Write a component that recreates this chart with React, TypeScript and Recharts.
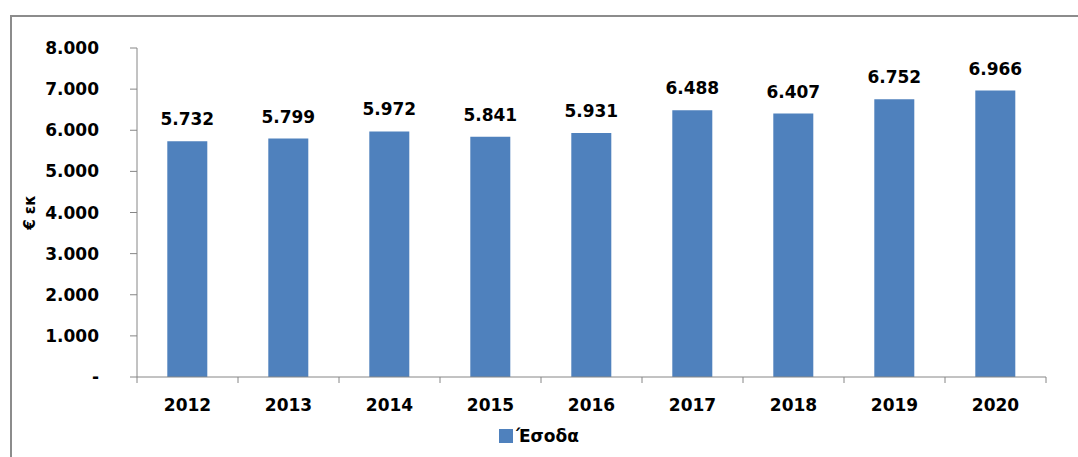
import React from "react";
import {
  BarChart,
  Bar,
  XAxis,
  YAxis,
  Legend,
  LabelList,
} from "recharts";

const years = ["2012", "2013", "2014", "2015", "2016", "2017", "2018", "2019", "2020"];
const revenue = [5732, 5799, 5972, 5841, 5931, 6488, 6407, 6752, 6966];
const yTicks = [0, 1000, 2000, 3000, 4000, 5000, 6000, 7000, 8000];

const data = years.map((y, i) => ({ year: y, value: revenue[i] }));

const FONT = "'DejaVu Sans', Verdana, sans-serif";
const AXIS = "#868686";

function fmt(v: number) {
  if (v === 0) return "-";
  const th = Math.floor(v / 1000);
  const rest = String(v % 1000).padStart(3, "0");
  return th > 0 ? `${th}.${rest}` : String(v);
}

function XTick(props: any) {
  const { x, y, payload, index, width } = props;
  const bw = width / years.length;
  const isLast = index === years.length - 1;
  return (
    <g>
      <line x1={x - bw / 2} y1={y} x2={x - bw / 2} y2={y + 6} stroke={AXIS} />
      {isLast && <line x1={x + bw / 2} y1={y} x2={x + bw / 2} y2={y + 6} stroke={AXIS} />}
      <text
        x={x}
        y={y + 34}
        textAnchor="middle"
        fontFamily={FONT}
        fontWeight="bold"
        fontSize={17}
        fill="#000"
      >
        {payload.value}
      </text>
    </g>
  );
}

function LegendContent() {
  return (
    <div
      style={{
        display: "flex",
        justifyContent: "center",
        alignItems: "center",
        fontFamily: FONT,
        fontWeight: "bold",
        fontSize: 17,
        color: "#000",
      }}
    >
      <span
        style={{
          display: "inline-block",
          width: 14,
          height: 14,
          background: "#4F81BD",
          marginRight: 3,
        }}
      />
      Έσοδα
    </div>
  );
}

export default function App() {
  return (
    <div style={{ position: "absolute", left: 0, top: 0, width: 1078, height: 457, background: "#fff", overflow: "hidden" }}>
      <div
        style={{
          position: "absolute",
          left: 10,
          top: 15,
          width: 1100,
          height: 500,
          border: "2px solid #8c8c8c",
          boxSizing: "border-box",
        }}
      />
      <div style={{ position: "absolute", left: 0, top: 0 }}>
        <BarChart
          width={1078}
          height={457}
          data={data}
          margin={{ top: 48, right: 32, left: 0, bottom: 26 }}
          barCategoryGap="30%"
        >
          <XAxis
            dataKey="year"
            stroke={AXIS}
            tickLine={false}
            tickSize={0}
            tickMargin={0}
            height={30}
            tick={<XTick />}
            interval={0}
          />
          <YAxis
            width={137}
            domain={[0, 8000]}
            ticks={yTicks}
            interval={0}
            stroke={AXIS}
            tickSize={7}
            tickMargin={31}
            tickFormatter={fmt}
            tick={{ fontFamily: FONT, fontWeight: "bold", fontSize: 17, fill: "#000" }}
            label={{
              value: "€ εκ",
              angle: -90,
              position: "insideLeft",
              offset: 30,
              style: { fontFamily: FONT, fontWeight: "bold", fontSize: 15, fill: "#000", textAnchor: "middle" },
            }}
          />
          <Legend
            content={<LegendContent />}
            wrapperStyle={{ position: "absolute", top: 426, left: 0, width: 1078, height: 24 }}
          />
          <Bar dataKey="value" name="Έσοδα" fill="#4F81BD" isAnimationActive={false}>
            <LabelList
              dataKey="value"
              position="top"
              offset={16}
              formatter={(v: any) => fmt(Number(v))}
              style={{ fontFamily: FONT, fontWeight: "bold", fontSize: 17, fill: "#000" }}
            />
          </Bar>
        </BarChart>
      </div>
    </div>
  );
}
